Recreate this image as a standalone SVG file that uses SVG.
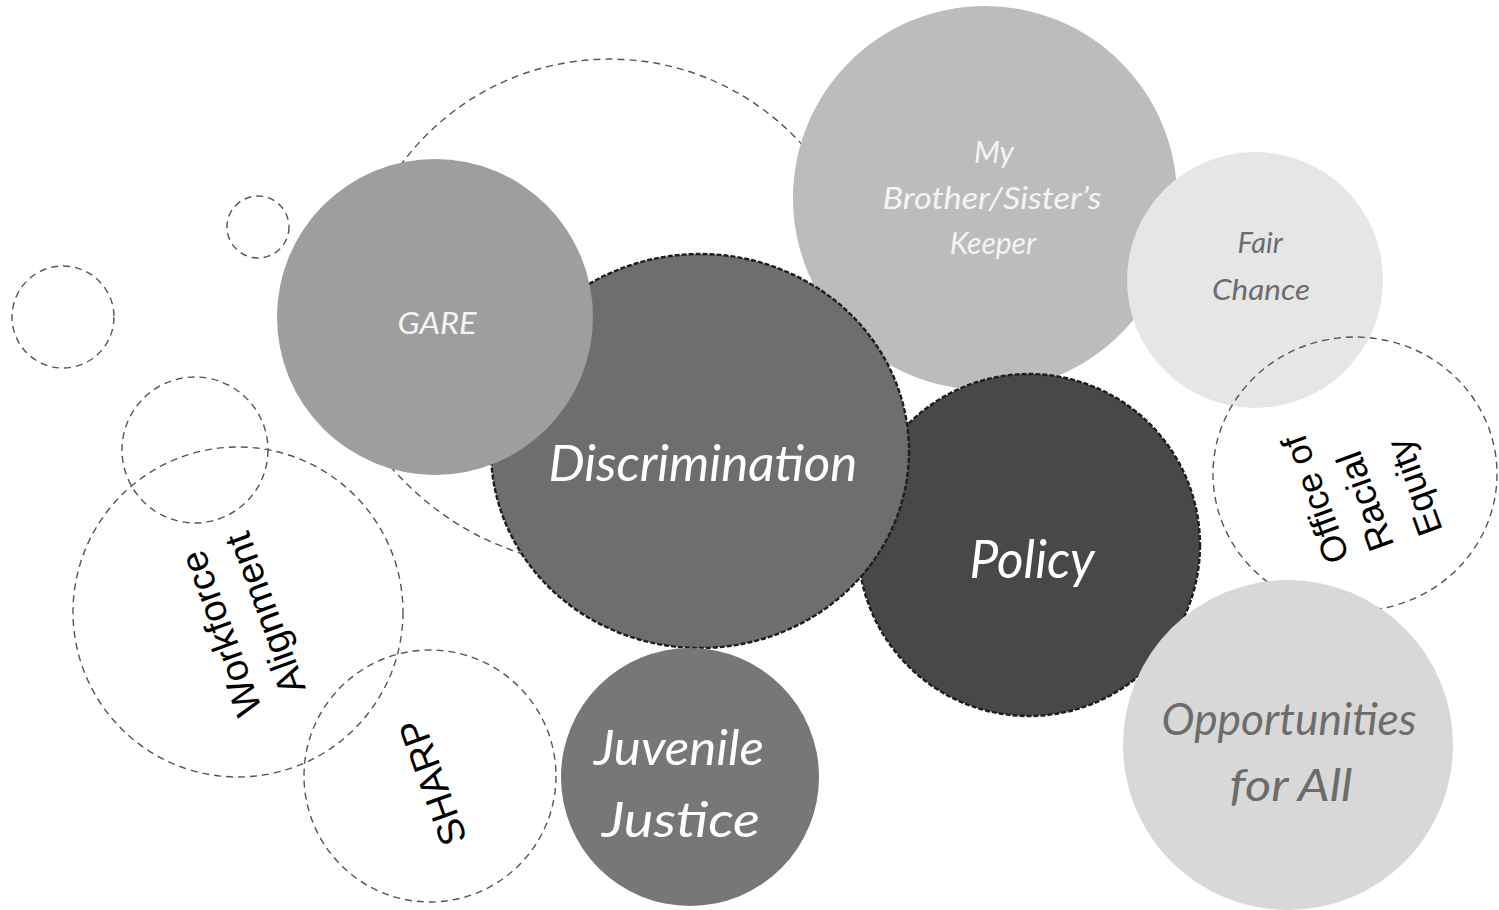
<svg xmlns="http://www.w3.org/2000/svg" width="1499" height="910" viewBox="0 0 1499 910">
<style>
.ol{fill:none;stroke:#555;stroke-width:1.4;stroke-dasharray:7 5}
.hard{stroke:#1e1e1e;stroke-width:2.4;stroke-dasharray:5 2}
.hw{font-family:Lato,"Open Sans",sans-serif;font-style:italic;text-anchor:middle}
.sans{font-family:"Liberation Sans",Arial,sans-serif;fill:#000;text-anchor:middle}
</style>
<rect width="1499" height="910" fill="#fff"/>
<g id="connectors">
<path class="ol" d="M 400,166 A 259 259 0 0 1 805,148"/>
<path class="ol" d="M 390,466 Q 450,535 537,558"/>
</g>
<g id="dot1"><circle class="ol" cx="258" cy="227" r="31"/></g>
<g id="dot2"><circle class="ol" cx="63" cy="317" r="51"/></g>
<g id="dot3"><circle class="ol" cx="195" cy="450" r="73"/></g>
<g id="workforce">
<circle class="ol" cx="238" cy="612" r="165"/>
<text class="sans" font-size="38" transform="translate(233,629) rotate(-110)">Workforce</text>
<text class="sans" font-size="38" transform="translate(277,609) rotate(-110)">Alignment</text>
</g>
<g id="sharp">
<circle class="ol" cx="430" cy="776" r="126"/>
<text class="sans" font-size="38" transform="translate(445,778) rotate(-110)">SHARP</text>
</g>
<g id="mbk">
<circle cx="985" cy="198" r="192" fill="#bcbcbc"/>
<text class="hw" font-size="30" fill="#f4f4f4" x="994" y="163">My</text>
<text class="hw" font-size="30" fill="#f4f4f4" x="992" y="209" textLength="219" lengthAdjust="spacingAndGlyphs">Brother/Sister’s</text>
<text class="hw" font-size="30" fill="#f4f4f4" x="993" y="254">Keeper</text>
</g>
<g id="fairchance">
<circle cx="1255" cy="280" r="128" fill="#e6e6e6"/>
<text class="hw" font-size="29" fill="#6c6c6c" x="1260" y="253">Fair</text>
<text class="hw" font-size="29" fill="#6c6c6c" x="1261" y="300" textLength="98" lengthAdjust="spacingAndGlyphs">Chance</text>
</g>
<g id="office">
<ellipse class="ol" cx="1355" cy="474" rx="142" ry="137"/>
<text class="sans" font-size="36" transform="translate(1327,495) rotate(-110)">Office of</text>
<text class="sans" font-size="37" transform="translate(1377,497) rotate(-110)">Racial</text>
<text class="sans" font-size="36" transform="translate(1426,483) rotate(-110)">Equity</text>
</g>
<g id="policy">
<circle class="hard" cx="1029" cy="545" r="171" fill="#484848"/>
<text class="hw" font-size="52" fill="#fff" x="1032" y="578" textLength="125" lengthAdjust="spacingAndGlyphs">Policy</text>
</g>
<g id="opportunities">
<circle cx="1288" cy="745" r="165" fill="#d8d8d8"/>
<text class="hw" font-size="44" fill="#6c6c6c" x="1289" y="735" textLength="255" lengthAdjust="spacingAndGlyphs">Opportunities</text>
<text class="hw" font-size="44" fill="#6c6c6c" x="1291" y="801" textLength="123" lengthAdjust="spacingAndGlyphs">for All</text>
</g>
<g id="discrimination">
<ellipse class="hard" cx="700" cy="451" rx="209" ry="197" fill="#6e6e6e"/>
<text class="hw" font-size="50" fill="#fff" x="703" y="481" textLength="309" lengthAdjust="spacingAndGlyphs">Discrimination</text>
</g>
<g id="gare">
<circle cx="435" cy="317" r="158" fill="#9e9e9e"/>
<text class="hw" font-size="30" fill="#f4f4f4" x="437" y="334" textLength="79" lengthAdjust="spacingAndGlyphs">GARE</text>
</g>
<g id="juvenile">
<circle cx="690" cy="777" r="129" fill="#777"/>
<text class="hw" font-size="48" fill="#fff" x="679" y="765" textLength="170" lengthAdjust="spacingAndGlyphs">Juvenile</text>
<text class="hw" font-size="48" fill="#fff" x="681" y="837" textLength="158" lengthAdjust="spacingAndGlyphs">Justice</text>
</g>
</svg>
